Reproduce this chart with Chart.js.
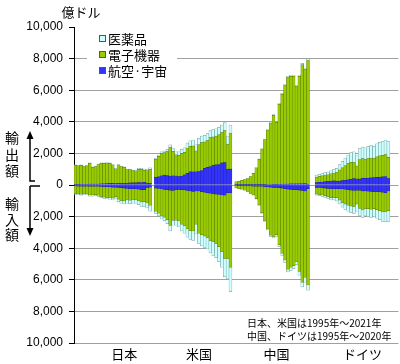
<!DOCTYPE html>
<html>
<head>
<meta charset="utf-8">
<script src="https://cdn.jsdelivr.net/npm/chart.js@4"></script>
<style>
  html, body { margin: 0; padding: 0; background: #fff; }
</style>
</head>
<body>
<canvas id="chart" width="400" height="364"></canvas>
<script>
// Years per country
const years21 = [1995,1996,1997,1998,1999,2000,2001,2002,2003,2004,2005,2006,2007,2008,2009,2010,2011,2012,2013,2014,2015,2016,2017,2018,2019,2020,2021];
const groupNames = ["日本", "米国", "中国", "ドイツ"];
const yTicks = [-10000,-8000,-6000,-4000,-2000,0,2000,4000,6000,8000,10000];

// Japan (1995-2021), 億ドル
const jpPharmaEx = [30,30,30,30,30,30,30,30,30,30,30,30,30,30,30,30,30,30,30,30,40,50,60,60,70,80,90];
const jpElecEx   = [1210,1180,1200,1120,1170,1310,1060,1110,1230,1300,1290,1300,1270,1170,930,1170,1060,1000,850,840,770,760,840,830,760,780,880];
const jpAeroEx   = [40,40,50,50,50,60,60,60,60,70,80,90,100,100,90,100,110,120,120,130,140,140,150,160,170,120,110];
const jpPharmaIm = [60,60,60,60,60,70,70,70,80,80,90,100,110,130,140,160,180,200,210,220,230,230,250,280,290,320,380];
const jpElecIm   = [480,490,510,460,470,550,550,530,560,630,660,670,670,680,600,740,800,800,720,730,680,670,740,780,760,980,1140];
const jpAeroIm   = [60,70,70,80,70,80,80,80,80,90,100,110,120,140,140,150,170,200,220,230,240,250,260,290,300,150,130];

// United States (1995-2021)
const usPharmaEx = [80,90,100,110,130,150,170,190,220,250,280,320,350,380,400,400,420,430,440,450,460,460,470,480,500,540,550];
const usElecEx   = [1140,1290,1420,1420,1520,1840,1550,1340,1350,1440,1430,1590,1610,1640,1320,1700,1760,1670,1690,1830,1790,1810,1880,1920,2030,1560,2240];
const usAeroEx   = [480,520,580,620,600,560,580,570,530,560,640,740,840,830,830,850,920,1050,1120,1170,1250,1280,1300,1400,1420,1000,1010];
const usPharmaIm = [150,170,190,220,260,350,320,330,380,420,460,520,560,600,620,650,700,720,740,800,880,900,950,1000,1150,1300,1550];
const usElecIm   = [1450,1560,1710,1750,1890,2220,1890,1920,1990,2190,2280,2440,2510,2500,2100,2670,2730,2770,2830,2980,3010,3120,3300,3580,4010,4170,4700];
const usAeroIm   = [200,220,250,280,300,330,340,300,280,290,310,340,380,400,380,380,420,460,480,520,560,580,600,620,640,480,500];

// China (1995-2020)
const cnPharmaEx = [10,10,10,10,10,10,10,10,20,20,20,30,30,40,40,50,60,60,70,70,70,70,80,90,100,120];
const cnElecEx   = [190,230,280,330,400,530,730,1080,1610,2260,2860,3440,3890,4370,3920,5050,5690,6230,6770,6810,6810,6160,6790,7530,7210,7820];
const cnAeroEx   = [10,10,10,10,10,10,10,10,20,20,20,30,30,40,40,50,50,60,60,70,70,70,80,80,90,60];
const cnPharmaIm = [10,10,10,10,10,20,20,30,40,50,60,70,80,90,100,120,140,160,180,200,200,220,240,300,320,330];
const cnElecIm   = [160,190,220,260,350,480,560,800,1180,1670,2140,2660,3040,3110,3000,3600,4110,4510,5060,4920,4800,4530,5140,5810,5450,6090];
const cnAeroIm   = [30,40,50,60,60,60,70,70,80,80,100,120,130,150,150,180,200,230,260,280,300,300,320,340,380,230];

// Germany (1995-2020)
const dePharmaEx = [120,130,140,160,180,200,230,270,350,420,480,550,620,680,650,700,720,740,780,800,780,820,860,880,920,1000];
const deElecEx   = [350,380,390,400,410,450,480,530,700,800,920,1020,1070,1020,820,1220,1250,1190,1230,1240,1200,1300,1340,1350,1390,1350];
const deAeroEx   = [150,170,190,220,230,250,270,250,250,280,300,330,360,400,380,380,430,420,440,460,470,480,500,520,540,400];
const dePharmaIm = [80,90,100,110,130,150,170,200,250,300,350,380,420,450,450,480,480,470,500,520,500,540,580,600,620,680];
const deElecIm   = [420,430,440,470,510,570,530,560,720,850,930,970,1010,1000,870,1140,1190,1110,1110,1130,1080,1130,1180,1240,1200,1240];
const deAeroIm   = [150,160,180,200,210,230,250,240,230,250,270,300,320,350,330,330,380,370,390,400,420,430,440,460,480,380];

// Layout of slots: each country takes 27 year slots, separated by one empty slot
const pad = (arr) => arr.concat(new Array(27 - arr.length).fill(null));
const join = (jp, us, cn, de) =>
  [].concat(pad(jp), [null], pad(us), [null], pad(cn), [null], pad(de), [null, null]);
const neg = (arr) => arr.map(v => -v);

const labels = join(years21, years21, years21.slice(0, 26), years21.slice(0, 26)).map(v => v == null ? "" : String(v));
const labelAt = { 17: groupNames[0], 43: groupNames[1], 70: groupNames[2], 100: groupNames[3] };

const colPharma = "#ccffff", colElec = "#99cc00", colAero = "#3333ff";
const brdPharma = "#6f9090", brdElec = "#5a7a00", brdAero = "#2020a0";

const mk = (label, data, bg, bd) => ({
  label, data, backgroundColor: bg, borderColor: bd,
  borderWidth: 0.5, borderSkipped: false,
  barPercentage: 1, categoryPercentage: 1,
});

const datasets = [
  mk("航空·宇宙", join(jpAeroEx, usAeroEx, cnAeroEx, deAeroEx), colAero, brdAero),
  mk("電子機器", join(jpElecEx, usElecEx, cnElecEx, deElecEx), colElec, brdElec),
  mk("医薬品", join(jpPharmaEx, usPharmaEx, cnPharmaEx, dePharmaEx), colPharma, brdPharma),
  mk("航空·宇宙 輸入", neg(join(jpAeroIm, usAeroIm, cnAeroIm, deAeroIm).map(v => v == null ? 0 : v)), colAero, brdAero),
  mk("電子機器 輸入", neg(join(jpElecIm, usElecIm, cnElecIm, deElecIm).map(v => v == null ? 0 : v)), colElec, brdElec),
  mk("医薬品 輸入", neg(join(jpPharmaIm, usPharmaIm, cnPharmaIm, dePharmaIm).map(v => v == null ? 0 : v)), colPharma, brdPharma),
];

const CJK = '"Noto Sans CJK JP", "Noto Sans", sans-serif';

// Extra texts: unit, arrows, legend, footnote
const decor = {
  id: "decor",
  afterDraw(chart) {
    const ctx = chart.ctx;
    ctx.save();
    ctx.fillStyle = "#000";
    ctx.textAlign = "center";
    ctx.textBaseline = "middle";
    ctx.font = "13px " + CJK;
    ctx.fillText("億ドル", 81, 12);

    ctx.font = "14px " + CJK;
    ["輸", "出", "額"].forEach((c, i) => ctx.fillText(c, 12, [138, 155, 171][i]));
    ["輸", "入", "額"].forEach((c, i) => ctx.fillText(c, 12, [204, 220, 235][i]));

    // arrows
    ctx.strokeStyle = "#000";
    ctx.lineWidth = 1.5;
    ctx.beginPath();
    ctx.moveTo(35, 181); ctx.lineTo(30, 181); ctx.lineTo(30, 137);
    ctx.moveTo(30, 186); ctx.lineTo(40, 186);
    ctx.moveTo(30, 186); ctx.lineTo(30, 230);
    ctx.stroke();
    ctx.beginPath();
    ctx.moveTo(30, 131); ctx.lineTo(26.5, 139); ctx.lineTo(33.5, 139); ctx.closePath();
    ctx.moveTo(30, 236); ctx.lineTo(26.5, 228); ctx.lineTo(33.5, 228); ctx.closePath();
    ctx.fill();

    // legend
    ctx.fillStyle = "#fff";
    ctx.fillRect(87, 31, 90, 52);
    const items = [["医薬品", colPharma, 39], ["電子機器", colElec, 55], ["航空·宇宙", colAero, 71]];
    ctx.font = "13px " + CJK;
    ctx.textAlign = "left";
    ctx.lineWidth = 1;
    items.forEach(([t, c, y]) => {
      ctx.fillStyle = c;
      ctx.fillRect(99.5, y - 3.5, 6, 6);
      ctx.strokeStyle = "#555";
      ctx.strokeRect(99.5, y - 3.5, 6, 6);
      ctx.fillStyle = "#000";
      ctx.fillText(t, 108, y);
    });

    // footnote
    ctx.font = "10px " + CJK;
    ctx.fillText("日本、米国は1995年～2021年", 247, 323);
    ctx.fillText("中国、ドイツは1995年～2020年", 247, 336);
    ctx.restore();
  }
};

new Chart(document.getElementById("chart"), {
  type: "bar",
  data: { labels, datasets },
  plugins: [decor],
  options: {
    responsive: false,
    animation: false,
    layout: { padding: { top: 27, right: 0, bottom: 0, left: 0 } },
    plugins: {
      legend: { display: false },
      tooltip: { enabled: false },
    },
    scales: {
      x: {
        stacked: true,
        grid: { display: false, drawTicks: false },
        border: { display: false },
        ticks: {
          autoSkip: false, maxRotation: 0, minRotation: 0, padding: 3,
          color: "#000",
          font: { family: CJK, size: 13 },
          callback: (v, i) => labelAt[i] || "",
        },
        afterFit: (s) => { s.height = 21; },
      },
      y: {
        stacked: true,
        min: -10000, max: 10000,
        afterBuildTicks: (s) => { s.ticks = yTicks.map(v => ({ value: v })); },
        grid: {
          color: (c) => c.tick && c.tick.value === 10000 ? "rgba(0,0,0,0)" : "#a0a0a0",
          tickColor: "#000",
          tickLength: 5,
        },
        border: { color: "#000", width: 1 },
        ticks: {
          padding: 6,
          color: "#000",
          font: { family: '"Liberation Sans", Arial, sans-serif', size: 12 },
          callback: (v) => Math.abs(v).toLocaleString("en-US"),
        },
        afterFit: (s) => { s.width = 74; },
      },
    },
  },
});
</script>
</body>
</html>
